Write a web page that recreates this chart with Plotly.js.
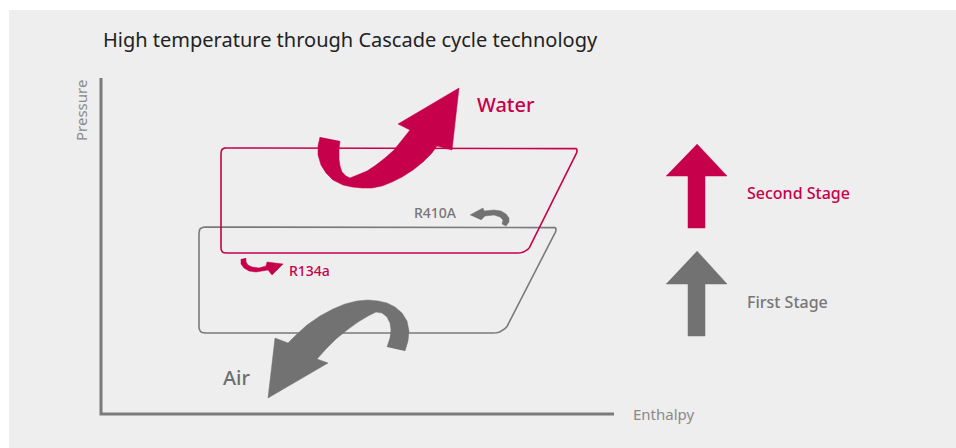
<!DOCTYPE html>
<html><head><meta charset="utf-8">
<script src="https://cdn.plot.ly/plotly-3.0.1.min.js"></script>
<style>html,body{margin:0;padding:0;background:#fff;}#chart{width:956px;height:448px;}</style>
</head><body><div id="chart"></div>
<script>
// ---- Diagram data (enthalpy = x, pressure = y, in diagram units) ----
const axisH = [101, 101, 614];          // axis polyline (enthalpy)
const axisP = [78, 414, 414];           // axis polyline (pressure)

const secondCycleH = [221, 579, 527, 221];   // R134a / second stage cycle
const secondCycleP = [148, 148, 253, 253];
const secondCycleR = [5, 6, 9, 5];

const firstCycleH = [199, 558, 504, 199];    // R410A / first stage cycle
const firstCycleP = [227, 227, 333, 333];
const firstCycleR = [6, 6, 11, 6];

const waterArrowH = [320, 318, 318, 321, 326, 333, 343, 352, 362, 372, 382, 392, 402, 413, 423, 432, 437, 452, 459, 398, 410, 402, 394, 385, 376, 367, 358, 350, 346, 342, 340, 339, 339, 340];
const waterArrowP = [137, 146, 155, 165, 173, 180, 185, 187, 188, 188, 186, 182, 177, 170, 162, 153, 146, 150, 88, 124, 130, 140, 150, 158, 165, 171, 175, 178, 176, 172, 166, 159, 150, 141];

const airArrowH = [405, 408, 409, 407, 402, 395, 387, 378, 368, 357, 345, 333, 320, 307, 296, 288, 275, 268, 328, 317, 326, 336, 347, 358, 368, 376, 382, 387, 390, 391, 390, 387];
const airArrowP = [351, 341, 331, 321, 313, 307, 303, 301, 300, 301, 304, 309, 316, 325, 335, 343, 338, 398, 363, 359, 349, 339, 330, 322, 316, 312, 313, 317, 323, 330, 338, 347];

const r410ArrowH = [470, 483, 484, 494, 501, 506, 509, 509, 506, 502, 503, 500, 494, 485, 481];
const r410ArrowP = [215, 208, 211, 210, 211, 214, 218, 222, 226, 224, 220, 217, 215, 216, 220];

const r134ArrowH = [241, 241, 244, 249, 256, 263, 268, 272, 283, 267, 266, 259, 252, 248, 246, 246];
const r134ArrowP = [259, 264, 268, 271, 272, 271, 270, 275, 264, 262, 266, 268, 267, 265, 262, 258];

const secondStageArrowH = [697, 727, 705, 705, 688, 688, 666];
const secondStageArrowP = [144, 176, 176, 228, 228, 176, 176];
const firstStageArrowH = [697, 727, 705, 705, 688, 688, 666];
const firstStageArrowP = [251, 284, 284, 336, 336, 284, 284];

const labelText = ['Water', 'R410A', 'R134a', 'Air', 'Second Stage', 'First Stage'];
const labelH    = [475, 412, 287, 221, 745, 745];
const labelP    = [104, 212, 270, 377, 193, 302];

// ---- styles ----
const RED = '#c6004b', GRAY = '#727272', LINEGRAY = '#7a7a7a';
const FONT = 'Noto Sans, Open Sans, sans-serif';

function roundedPoly(xs, ys, rs) {
  const n = xs.length, ox = [], oy = [];
  for (let i = 0; i < n; i++) {
    const px = xs[(i - 1 + n) % n], py = ys[(i - 1 + n) % n];
    const cx = xs[i], cy = ys[i];
    const nx = xs[(i + 1) % n], ny = ys[(i + 1) % n];
    const d1 = Math.hypot(px - cx, py - cy), d2 = Math.hypot(nx - cx, ny - cy);
    const r = rs[i];
    const ax = cx + (px - cx) * r / d1, ay = cy + (py - cy) * r / d1;
    const bx = cx + (nx - cx) * r / d2, by = cy + (ny - cy) * r / d2;
    for (let k = 0; k <= 6; k++) {
      const t = k / 6, u = 1 - t;
      ox.push(u * u * ax + 2 * u * t * cx + t * t * bx);
      oy.push(u * u * ay + 2 * u * t * cy + t * t * by);
    }
  }
  ox.push(ox[0]); oy.push(oy[0]);
  return [ox, oy];
}

const sc = roundedPoly(secondCycleH, secondCycleP, secondCycleR);
const fc = roundedPoly(firstCycleH, firstCycleP, firstCycleR);

function shape(xs, ys, color) {
  return {x: xs, y: ys, type: 'scatter', mode: 'lines', fill: 'toself', fillcolor: color,
          line: {color: color, width: 0.5}, hoverinfo: 'skip', showlegend: false};
}

const traces = [
  {x: fc[0], y: fc[1], type: 'scatter', mode: 'lines', line: {color: LINEGRAY, width: 1.6}, hoverinfo: 'skip', showlegend: false},
  {x: sc[0], y: sc[1], type: 'scatter', mode: 'lines', line: {color: RED, width: 1.6}, hoverinfo: 'skip', showlegend: false},
  {x: axisH, y: axisP, type: 'scatter', mode: 'lines', line: {color: LINEGRAY, width: 3}, hoverinfo: 'skip', showlegend: false},
  shape(waterArrowH, waterArrowP, RED),
  shape(airArrowH, airArrowP, GRAY),
  shape(r410ArrowH, r410ArrowP, GRAY),
  shape(r134ArrowH, r134ArrowP, RED),
  shape(secondStageArrowH, secondStageArrowP, RED),
  shape(firstStageArrowH, firstStageArrowP, GRAY)
];

const labelStyle = [
  {size: 20, color: RED, weight: 500},
  {size: 14, color: '#777777', weight: 500},
  {size: 14, color: RED, weight: 500},
  {size: 20, color: '#6e6e6e', weight: 500},
  {size: 16, color: RED, weight: 500},
  {size: 16, color: '#777777', weight: 500}
];

const annotations = labelText.map((t, i) => ({
  x: labelH[i], y: labelP[i], xref: 'x', yref: 'y', text: t, showarrow: false,
  xanchor: 'left', yanchor: 'middle', font: Object.assign({family: FONT}, labelStyle[i])
}));
annotations.push({x: 81, y: 111, xref: 'x', yref: 'y', text: 'Pressure', textangle: -90, showarrow: false,
  xanchor: 'center', yanchor: 'middle', font: {family: FONT, size: 15, color: '#8a8a8a'}});
annotations.push({x: 631, y: 414, xref: 'x', yref: 'y', text: 'Enthalpy', showarrow: false,
  xanchor: 'left', yanchor: 'middle', font: {family: FONT, size: 15, color: '#8a8a8a'}});

const layout = {
  width: 956, height: 448,
  margin: {l: 9, r: 0, t: 10, b: 0},
  paper_bgcolor: '#ffffff', plot_bgcolor: '#eeeeee',
  title: {text: 'High temperature through Cascade cycle technology', xref: 'container', yref: 'container',
          x: 103 / 956, xanchor: 'left', y: 1 - 40 / 448, yanchor: 'middle',
          font: {family: FONT, size: 20, color: '#222222'}},
  xaxis: {range: [9, 956], visible: false, fixedrange: true},
  yaxis: {range: [448, 10], visible: false, fixedrange: true},
  annotations: annotations,
  showlegend: false
};

Plotly.newPlot('chart', traces, layout, {displayModeBar: false, staticPlot: true});
</script></body></html>
